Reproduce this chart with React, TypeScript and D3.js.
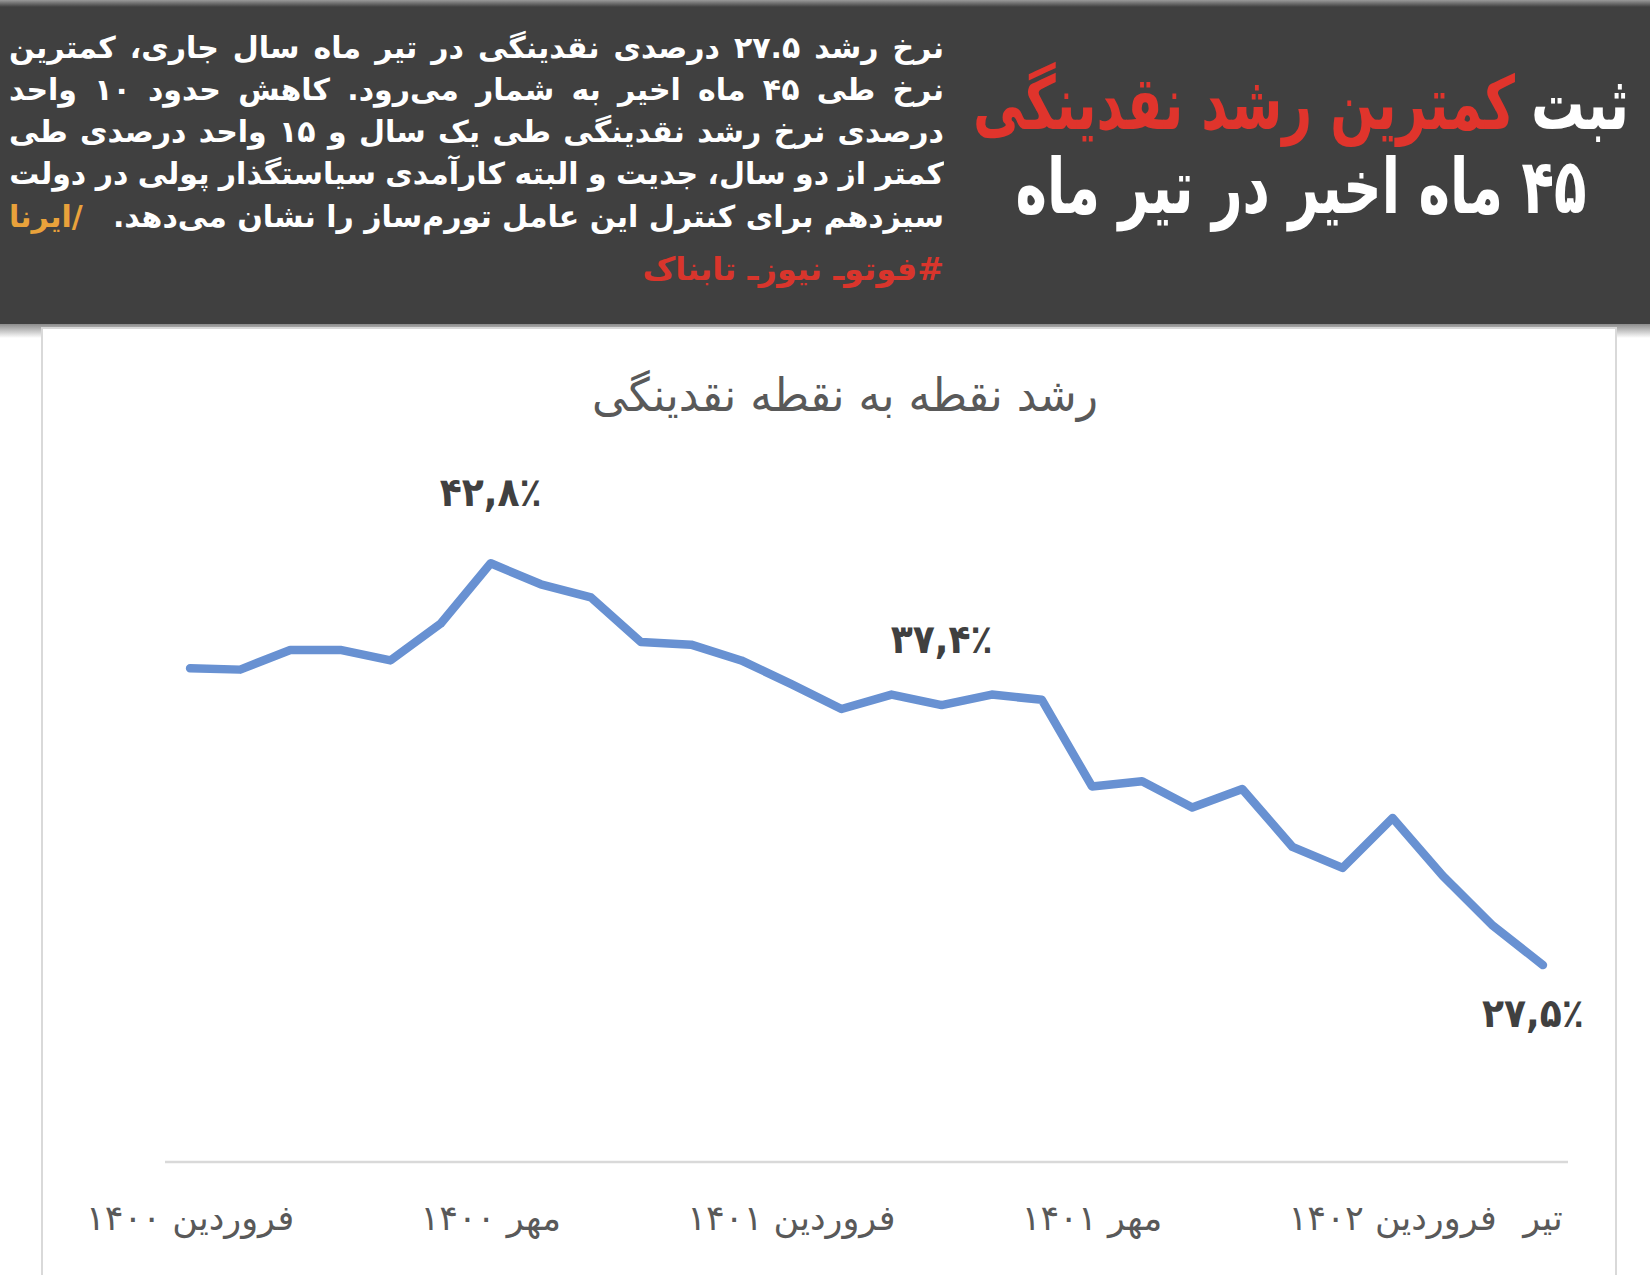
import React, { useLayoutEffect, useRef, useState } from "react";
import * as d3 from "d3";

// months from Farvardin 1400 to Tir 1402
const months = [
  "فروردین ۱۴۰۰", "اردیبهشت ۱۴۰۰", "خرداد ۱۴۰۰", "تیر ۱۴۰۰", "مرداد ۱۴۰۰", "شهریور ۱۴۰۰",
  "مهر ۱۴۰۰", "آبان ۱۴۰۰", "آذر ۱۴۰۰", "دی ۱۴۰۰", "بهمن ۱۴۰۰", "اسفند ۱۴۰۰",
  "فروردین ۱۴۰۱", "اردیبهشت ۱۴۰۱", "خرداد ۱۴۰۱", "تیر ۱۴۰۱", "مرداد ۱۴۰۱", "شهریور ۱۴۰۱",
  "مهر ۱۴۰۱", "آبان ۱۴۰۱", "آذر ۱۴۰۱", "دی ۱۴۰۱", "بهمن ۱۴۰۱", "اسفند ۱۴۰۱",
  "فروردین ۱۴۰۲", "اردیبهشت ۱۴۰۲", "خرداد ۱۴۰۲", "تیر ۱۴۰۲",
];

// point-to-point liquidity growth (%)
const growth = [
  38.8, 38.75, 39.5, 39.5, 39.1, 40.5,
  42.8, 42.0, 41.5, 39.8, 39.7, 39.1,
  38.2, 37.25, 37.8, 37.4, 37.8, 37.6,
  34.3, 34.5, 33.5, 34.2, 32.0, 31.2,
  33.1, 30.9, 29.0, 27.5,
];

const tickMonths = ["فروردین ۱۴۰۰", "مهر ۱۴۰۰", "فروردین ۱۴۰۱", "مهر ۱۴۰۱", "فروردین ۱۴۰۲", "تیر ۱۴۰۲"];
const tickTexts = ["فروردین ۱۴۰۰", "مهر ۱۴۰۰", "فروردین ۱۴۰۱", "مهر ۱۴۰۱", "فروردین ۱۴۰۲", "تیر"];

const labelMonths = ["مهر ۱۴۰۰", "تیر ۱۴۰۱", "تیر ۱۴۰۲"];
const labelTexts = ["۴۲,۸٪", "۳۷,۴٪", "۲۷,۵٪"];

const chartTitle = "رشد نقطه به نقطه نقدینگی";
const headlineWhite = "ثبت";
const headlineRed = "کمترین رشد نقدینگی";
const headline2 = "۴۵ ماه اخیر در تیر ماه";
const bodyLines = [
  "نرخ رشد ۲۷.۵ درصدی نقدینگی در تیر ماه سال جاری، کمترین",
  "نرخ طی ۴۵ ماه اخیر به شمار می‌رود. کاهش حدود ۱۰ واحد",
  "درصدی نرخ رشد نقدینگی طی یک سال و ۱۵ واحد درصدی طی",
  "کمتر از دو سال، جدیت و البته کارآمدی سیاستگذار پولی در دولت",
];
const lastLine = "سیزدهم برای کنترل این عامل تورم‌ساز را نشان می‌دهد.";
const source = "/ایرنا";
const hashtag = "#فوتوـ نیوزـ تابناک";

const W = 1650;
const H = 1275;
const FONT = "'DejaVu Sans', sans-serif";

// text squeezed horizontally around its centre to a given width
const FitText: React.FC<{
  x: number;
  y: number;
  width: number;
  size: number;
  fill: string;
  bold?: boolean;
  dir?: "rtl" | "ltr";
  children: string;
}> = ({ x, y, width, size, fill, bold, dir = "rtl", children }) => {
  const ref = useRef<SVGTextElement>(null);
  const [sx, setSx] = useState(1);
  useLayoutEffect(() => {
    if (!ref.current) return;
    const natural = ref.current.getComputedTextLength();
    if (natural > 0) setSx(width / natural);
  }, [width, children, size]);
  return (
    <text
      ref={ref}
      x={0}
      y={0}
      transform={`translate(${x},${y}) scale(${sx},1)`}
      textAnchor="middle"
      direction={dir}
      fontFamily={FONT}
      fontWeight={bold ? "bold" : "normal"}
      fontSize={size}
      fill={fill}
    >
      {children}
    </text>
  );
};

export default function App() {
  const x = d3.scalePoint<string>().domain(months).range([165, 1568]).padding(0.5);
  const y = d3.scaleLinear().domain([20, 45]).range([1162, 505.5]);

  const line = d3
    .line<number>()
    .x((_, i) => x(months[i]) as number)
    .y((d) => y(d));

  const labelOffsets = [-57, -52, 62];
  const lineStyle: React.CSSProperties = {
    position: "absolute",
    left: 0,
    width: 935,
    lineHeight: "40px",
    display: "flex",
    justifyContent: "space-between",
    direction: "rtl",
    whiteSpace: "nowrap",
  };

  return (
    <svg
      width={W}
      height={H}
      style={{ position: "absolute", left: 0, top: 0, background: "#fff" }}
    >
      <defs>
        <linearGradient id="topFade" x1="0" y1="0" x2="0" y2="1">
          <stop offset="0" stopColor="#9a9a9a" />
          <stop offset="1" stopColor="#404040" />
        </linearGradient>
        <linearGradient id="shadow" x1="0" y1="0" x2="0" y2="1">
          <stop offset="0" stopColor="#8c8c8c" />
          <stop offset="1" stopColor="#ffffff" />
        </linearGradient>
      </defs>

      {/* header */}
      <rect x={0} y={324} width={W} height={14} fill="url(#shadow)" />
      <rect x={0} y={0} width={W} height={324} fill="#404040" />
      <rect x={0} y={0} width={W} height={7} fill="url(#topFade)" />

      <FitText x={1580} y={129} width={98} size={74} fill="#ffffff" bold>
        {headlineWhite}
      </FitText>
      <FitText x={1244} y={129} width={542} size={74} fill="#e0342c" bold>
        {headlineRed}
      </FitText>
      <FitText x={1301} y={213} width={571} size={76} fill="#ffffff" bold>
        {headline2}
      </FitText>

      <foreignObject x={9} y={0} width={935} height={310}>
        <div
          style={{
            position: "relative",
            width: 935,
            height: 310,
            fontFamily: FONT,
            fontWeight: "bold",
            fontSize: 30,
            color: "#ffffff",
          }}
        >
          {bodyLines.map((l, i) => (
            <div key={i} style={{ ...lineStyle, top: 28 + i * 42 }}>
              {l.split(" ").map((w, j) => (
                <span key={j}>{w}</span>
              ))}
            </div>
          ))}
          <div style={{ ...lineStyle, top: 28 + 4 * 42 + 1 }}>
            <span>{lastLine}</span>
            <span style={{ color: "#e9a23b" }}>{source}</span>
          </div>
          <div
            style={{
              ...lineStyle,
              top: 249,
              display: "block",
              textAlign: "right",
              fontSize: 32,
              color: "#d9352c",
            }}
          >
            {hashtag}
          </div>
        </div>
      </foreignObject>

      {/* chart panel */}
      <rect x={42} y={328} width={1574} height={H} fill="#ffffff" stroke="#d9d9d9" strokeWidth={2} />

      <FitText x={845} y={411} width={506} size={46} fill="#595959">
        {chartTitle}
      </FitText>

      <line x1={165} x2={1568} y1={y(20)} y2={y(20)} stroke="#d9d9d9" strokeWidth={2.5} />

      {tickMonths.map((m, i) => (
        <text
          key={m}
          x={x(m)}
          y={1230}
          textAnchor="middle"
          direction="rtl"
          fontFamily={FONT}
          fontSize={35}
          fill="#595959"
        >
          {tickTexts[i]}
        </text>
      ))}

      <path
        d={line(growth) || ""}
        fill="none"
        stroke="#6891d2"
        strokeWidth={8.5}
        strokeLinejoin="round"
        strokeLinecap="round"
      />

      {labelMonths.map((m, i) => {
        const v = growth[months.indexOf(m)];
        return (
          <FitText
            key={m}
            x={(x(m) as number) - (i === 2 ? 10 : 0)}
            y={y(v) + labelOffsets[i]}
            width={102}
            size={40}
            fill="#404040"
            bold
            dir="ltr"
          >
            {labelTexts[i]}
          </FitText>
        );
      })}
    </svg>
  );
}
